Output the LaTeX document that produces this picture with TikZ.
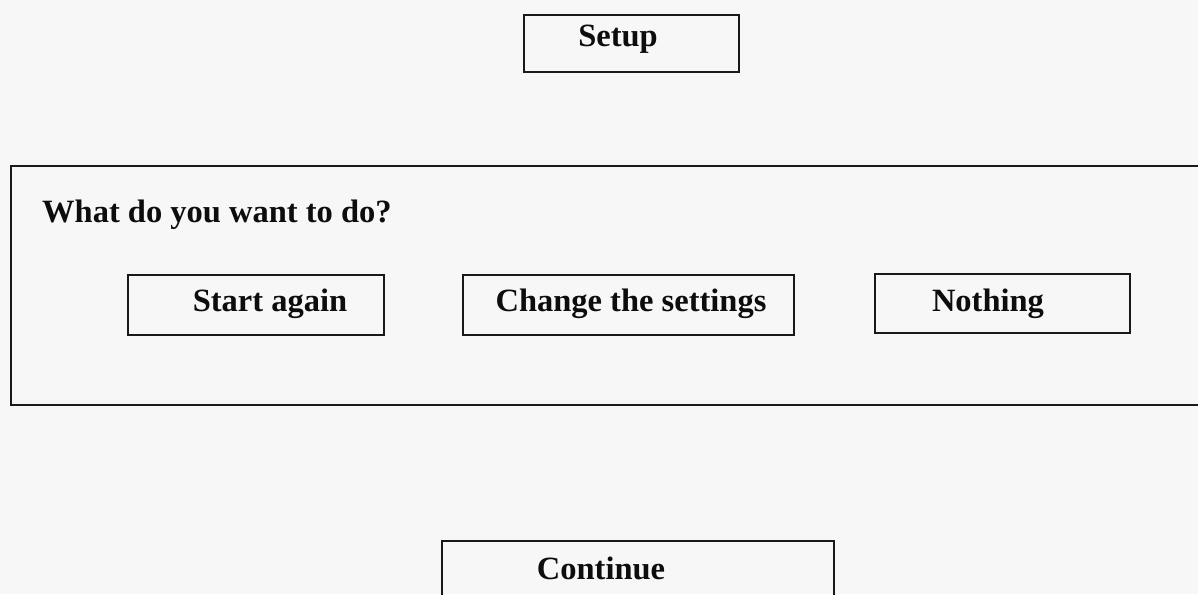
\documentclass[tikz,border=0pt]{standalone}
\usepackage{fontspec}
\setmainfont{Liberation Serif}
\begin{document}
\begin{tikzpicture}[x=1pt,y=-1pt,
  box/.style={draw=black!90,line width=1.7pt,rectangle,inner sep=0pt,anchor=north west},
  lbl/.style={font=\fontsize{32.5}{32.5}\selectfont\bfseries,text=black!95,inner sep=0pt,anchor=base}]
\useasboundingbox (0,0) rectangle (1198,594);
\clip (0,0) rectangle (1198,594);
\fill[white!97!black] (0,0) rectangle (1198,594);
% boxes
\node[box,minimum width=215pt,minimum height=57pt] (setupbox) at (523,14) {};
\node[box,minimum width=1210pt,minimum height=239pt] (frame) at (10,165) {};
\node[box,minimum width=256pt,minimum height=60pt] (startbox) at (127,274) {};
\node[box,minimum width=331pt,minimum height=60pt] (changebox) at (462,274) {};
\node[box,minimum width=255pt,minimum height=59pt] (nothingbox) at (874,273) {};
\node[box,minimum width=392pt,minimum height=80pt] (continuebox) at (441,540) {};
% labels
\node[lbl] (setup) at (618,47) {Setup};
\node[lbl,anchor=base west] (question) at (42,222) {What do you want to do?};
\node[lbl] (start) at (270,311) {Start again};
\node[lbl] (change) at (631,311) {Change the settings};
\node[lbl] (nothing) at (988,311) {Nothing};
\node[lbl] (continue) at (601,579) {Continue};
\end{tikzpicture}
\end{document}
